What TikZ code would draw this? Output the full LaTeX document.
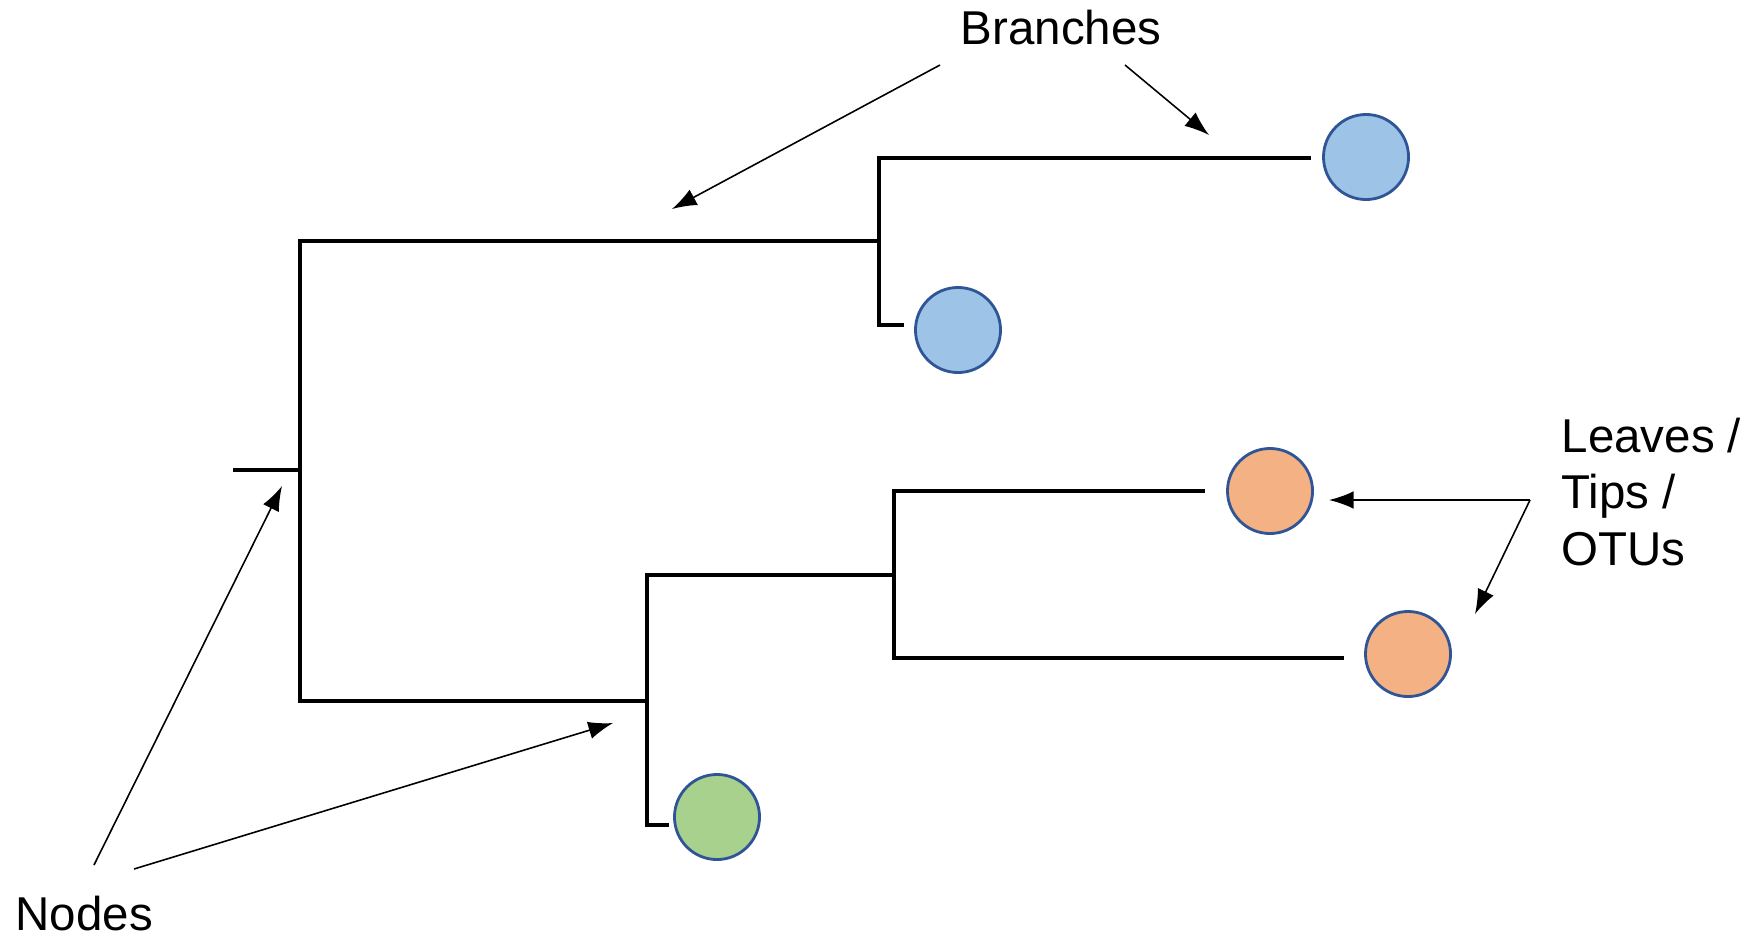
\documentclass[tikz,border=0pt]{standalone}
\usepackage{fontspec}
\setmainfont{Liberation Sans}
\usetikzlibrary{arrows.meta}

\definecolor{tipblue}{HTML}{9DC3E6}
\definecolor{tiporange}{HTML}{F4B183}
\definecolor{tipgreen}{HTML}{A9D18E}
\definecolor{rimblue}{HTML}{2F5597}

\begin{document}
\begin{tikzpicture}[x=0.01cm,y=-0.01cm,
	font=\fontsize{13.5}{16}\selectfont,
	branch/.style={line width=1.2pt},
	leaf/.style={circle,draw=rimblue,line width=0.8pt,minimum size=0.85cm,inner sep=0},
	pointer/.style={line width=0.45pt,-{Latex[length=7pt,width=5pt]}}]
	\useasboundingbox (0,0) rectangle (1755,945);
	% inner nodes of the tree
	\coordinate (stem) at (233,470);
	\coordinate (root) at (300,470);
	\coordinate (nA) at (879,241);
	\coordinate (nB) at (647,701);
	\coordinate (nC) at (894,575);
	% branch ends
	\coordinate (e1) at (1311,158);
	\coordinate (e2) at (904,325);
	\coordinate (e3) at (1205,491);
	\coordinate (e4) at (1344,658);
	\coordinate (e5) at (669,825);
	% branches
	\draw[branch] (stem) -- (root);
	\draw[branch] (root) |- (nA);
	\draw[branch] (root) |- (nB);
	\draw[branch] (nA) |- (e1);
	\draw[branch] (nA) |- (e2);
	\draw[branch] (nB) |- (nC);
	\draw[branch] (nB) |- (e5);
	\draw[branch] (nC) |- (e3);
	\draw[branch] (nC) |- (e4);
	% leaves
	\node[leaf,fill=tipblue] (l1) at (1366,157) {};
	\node[leaf,fill=tipblue] (l2) at (958,330) {};
	\node[leaf,fill=tiporange] (l3) at (1270,491) {};
	\node[leaf,fill=tiporange] (l4) at (1408,654) {};
	\node[leaf,fill=tipgreen] (l5) at (717,817) {};
	% labels
	\node (branches) at (1061,28) {Branches};
	\node[anchor=west,inner sep=0] (nodes) at (15,914) {Nodes};
	\node[anchor=west,inner sep=0,align=left] (tips) at (1561,492) {Leaves /\\Tips /\\OTUs};
	% pointers
	\coordinate (bs1) at (940,65);
	\coordinate (bs2) at (1125,65);
	\coordinate (bt1) at (672,209);
	\coordinate (bt2) at (1209,135);
	\draw[pointer] (bs1) -- (bt1);
	\draw[pointer] (bs2) -- (bt2);
	\coordinate (ns1) at (94,865);
	\coordinate (ns2) at (134,869);
	\coordinate (nt1) at (282,486);
	\coordinate (nt2) at (613,723);
	\draw[pointer] (ns1) -- (nt1);
	\draw[pointer] (ns2) -- (nt2);
	\coordinate (ts) at (1530,500);
	\coordinate (tt1) at (1329,500);
	\coordinate (tt2) at (1475,614);
	\draw[pointer] (ts) -- (tt1);
	\draw[pointer] (ts) -- (tt2);
\end{tikzpicture}
\end{document}
